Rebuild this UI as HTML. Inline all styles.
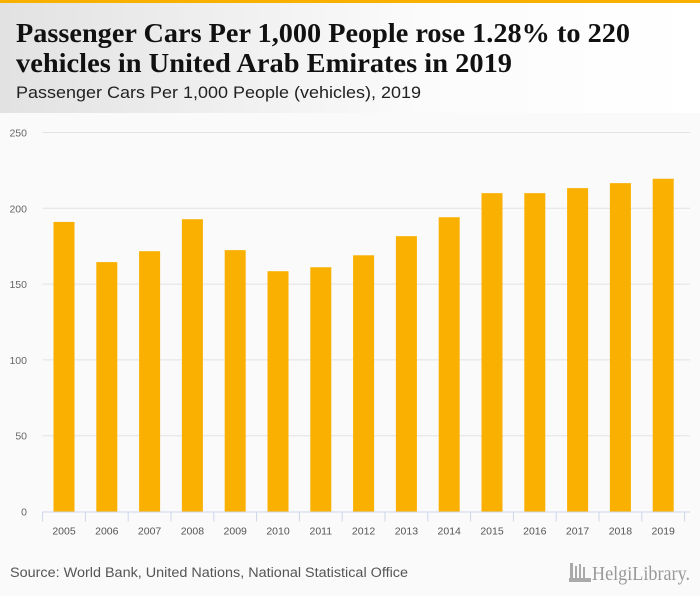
<!DOCTYPE html>
<html><head><meta charset="utf-8"><style>
html,body{margin:0;padding:0;background:#fafafa;}
svg{display:block;font-family:"Liberation Sans",sans-serif;}
</style></head><body>
<svg id="chart" width="700" height="596" viewBox="0 0 700 596" xmlns="http://www.w3.org/2000/svg">
<defs><linearGradient id="hg" x1="0" x2="1" y1="0" y2="0"><stop offset="0" stop-color="#e2e2e2"/><stop offset="0.6" stop-color="#fbfbfb"/><stop offset="1" stop-color="#ffffff"/></linearGradient></defs>
<rect x="0" y="0" width="700" height="596" fill="#fafafa"/>
<rect x="0" y="0" width="700" height="113" fill="url(#hg)"/>
<rect x="0" y="0" width="700" height="3" fill="#f9b000"/>
<text x="16" y="42" font-family="Liberation Serif, serif" font-weight="bold" font-size="27" fill="#111" textLength="614" lengthAdjust="spacingAndGlyphs">Passenger Cars Per 1,000 People rose 1.28% to 220</text>
<text x="16" y="72" font-family="Liberation Serif, serif" font-weight="bold" font-size="27" fill="#111" textLength="496" lengthAdjust="spacingAndGlyphs">vehicles in United Arab Emirates in 2019</text>
<text x="16" y="98" font-size="17" fill="#222" textLength="405" lengthAdjust="spacingAndGlyphs">Passenger Cars Per 1,000 People (vehicles), 2019</text>
<g id="grid"></g>
<g id="bars"></g>
<g id="xaxis"></g>
<text x="10" y="577" font-size="13.5" fill="#555" textLength="398" lengthAdjust="spacingAndGlyphs">Source: World Bank, United Nations, National Statistical Office</text>
<g fill="#aaa">
<rect x="570" y="563" width="3" height="16"/><rect x="575" y="566" width="2" height="13"/><rect x="579" y="564" width="2" height="15"/><rect x="583" y="567" width="2" height="12"/><rect x="569" y="578" width="22" height="4"/>
<text x="592" y="580" font-family="Liberation Serif, serif" font-size="20" fill="#999" textLength="98" lengthAdjust="spacingAndGlyphs">HelgiLibrary.</text>
</g>
</svg>
<script>
const categories = ["2005","2006","2007","2008","2009","2010","2011","2012","2013","2014","2015","2016","2017","2018","2019"];
const values = [191,164.5,171.7,192.8,172.4,158.5,161.1,169,181.6,194.1,210,210,213.3,216.6,219.5];
const yTicks = [0,50,100,150,200,250];
const NS="http://www.w3.org/2000/svg";
const L=42.6,R=684.6,GR=690,Y0=511.5,PXPER=(511.5-132.5)/250;
const y=v=>Y0-v*PXPER;
const bw=(R-L)/categories.length;
const x=i=>L+bw*(i+0.5);
function mk(t,a,p){const e=document.createElementNS(NS,t);for(const k in a)e.setAttribute(k,a[k]);p.appendChild(e);return e;}
const grid=document.getElementById('grid'),bars=document.getElementById('bars'),xa=document.getElementById('xaxis');
yTicks.forEach(t=>{
  if(t>0){const g=mk('line',{x1:L,x2:GR,y1:y(t),y2:y(t),stroke:'#e2e2e2','stroke-width':1},grid);
  
  }
  const tx=mk('text',{x:27,y:y(t)+4,'text-anchor':'end','font-size':10.5,fill:'#666'},grid);
  tx.textContent=t;
  
  
});
const ax=mk('line',{x1:L,x2:GR,y1:Y0+0.5,y2:Y0+0.5,stroke:'#ccd6eb','stroke-width':1},xa);


for(let i=0;i<=categories.length;i++){
  const tk=mk('line',{x1:L+bw*i,x2:L+bw*i,y1:Y0,y2:Y0+10,stroke:'#ccd6eb'},xa);
  
  
}
categories.forEach((c,i)=>{
  const r=mk('rect',{x:x(i)-10.5,y:y(values[i]),width:21,height:Y0-y(values[i]),fill:'#f9b000'},bars);
  
  
  const t=mk('text',{x:x(i),y:Y0+23,'text-anchor':'middle','font-size':10.5,fill:'#555'},xa);
  t.textContent=c;
  
  
});
</script>
</body></html>
